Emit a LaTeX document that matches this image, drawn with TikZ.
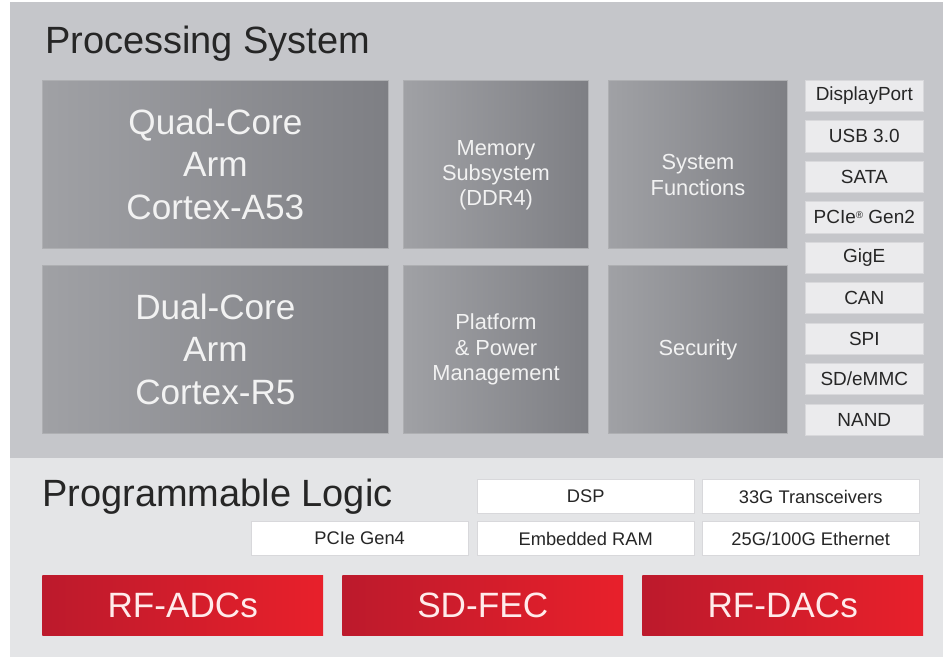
\documentclass[tikz,border=0pt]{standalone}
\usepackage{fontspec}
\setmainfont{Liberation Sans}
\usepackage{tikz}
\usetikzlibrary{positioning}
\definecolor{psbg}{HTML}{C5C6CA}
\definecolor{plbg}{HTML}{E4E5E7}
\definecolor{coreL}{HTML}{A0A1A5}
\definecolor{coreD}{HTML}{7E7F84}
\definecolor{ifbox}{HTML}{EBEBED}
\definecolor{ifline}{HTML}{D8D8DB}
\definecolor{rfL}{HTML}{BC1A2C}
\definecolor{rfD}{HTML}{E8202B}
\definecolor{txtdark}{HTML}{262626}

\begin{document}
\begin{tikzpicture}[x=0.025cm, y=-0.025cm,
  node distance=0.217cm and 0.2cm,
  titre/.style={anchor=base west, inner sep=0pt, font=\fontsize{27}{30}\selectfont, text=txtdark},
  core/.style={rectangle, anchor=north west, left color=coreL, right color=coreD,
               draw=coreL!85!white, line width=0.5pt, align=center, text=white!95!black,
               minimum width=8.65cm, minimum height=4.2cm, font=\fontsize{25}{30}\selectfont},
  bloc/.style={core, minimum width=4.6cm, font=\fontsize{15.5}{18}\selectfont},
  iface/.style={rectangle, fill=ifbox, draw=ifline, line width=0.4pt, align=center,
                minimum width=2.95cm, minimum height=0.78cm, inner sep=0pt,
                text=txtdark, font=\fontsize{13.5}{15}\selectfont},
  plbox/.style={rectangle, anchor=north west, fill=white, draw=ifline, line width=0.4pt,
                minimum width=5.42cm, minimum height=0.86cm, inner sep=0pt,
                text=txtdark, font=\fontsize{13}{15}\selectfont},
  rf/.style={rectangle, anchor=north west, left color=rfL, right color=rfD,
             minimum width=7.02cm, minimum height=1.5cm, inner sep=0pt,
             text=white!92!red, font=\fontsize{25}{30}\selectfont}]
\useasboundingbox (0,0) rectangle (943,658);
% fonds PS / PL
\fill[psbg] (10,2) rectangle (943,458);
\fill[plbg] (10,458) rectangle (943,657);

% Processing System
\node[titre] (ps) at (45,53) {Processing System};
\node[core] (a53) at (42,80) {Quad-Core\\Arm\\Cortex-A53};
\node[core] (r5) at (42,265) {Dual-Core\\Arm\\Cortex-R5};
\node[bloc, minimum width=4.63cm] (mem) at (403,80) {\rule{0pt}{26pt}Memory\\Subsystem\\(DDR4)};
\node[bloc, minimum width=4.63cm] (pmu) at (403,265) {Platform\\\& Power\\Management};
\node[bloc, minimum width=4.48cm] (sysf) at (608,80) {\rule{0pt}{26pt}System\\Functions};
\node[bloc, minimum width=4.48cm] (secu) at (608,265) {Security};

\node[iface, anchor=north west] (dp) at (805,80) {DisplayPort};
\node[iface, below=of dp] (usb) {USB 3.0};
\node[iface, below=of usb] (sata) {SATA};
\node[iface, below=of sata] (pcie2) {PCIe\raisebox{0.5ex}{\scriptsize\textregistered} Gen2};
\node[iface, below=of pcie2] (gige) {GigE};
\node[iface, below=of gige] (can) {CAN};
\node[iface, below=of can] (spi) {SPI};
\node[iface, below=of spi] (sdmmc) {SD/eMMC};
\node[iface, below=of sdmmc] (nand) {NAND};

% Programmable Logic
\node[titre] (pl) at (42,506) {Programmable Logic};
\node[plbox] (dsp) at (477,479) {DSP};
\node[plbox] (gt) at (702,479) {33G Transceivers};
\node[plbox] (pcie4) at (251,521) {PCIe Gen4};
\node[plbox] (ram) at (477,521) {Embedded RAM};
\node[plbox] (eth) at (702,521) {25G/100G Ethernet};

\node[rf] (adc) at (42,575) {RF-ADCs};
\node[rf] (fec) at (342,575) {SD-FEC};
\node[rf] (dac) at (642,575) {RF-DACs};
\end{tikzpicture}
\end{document}
